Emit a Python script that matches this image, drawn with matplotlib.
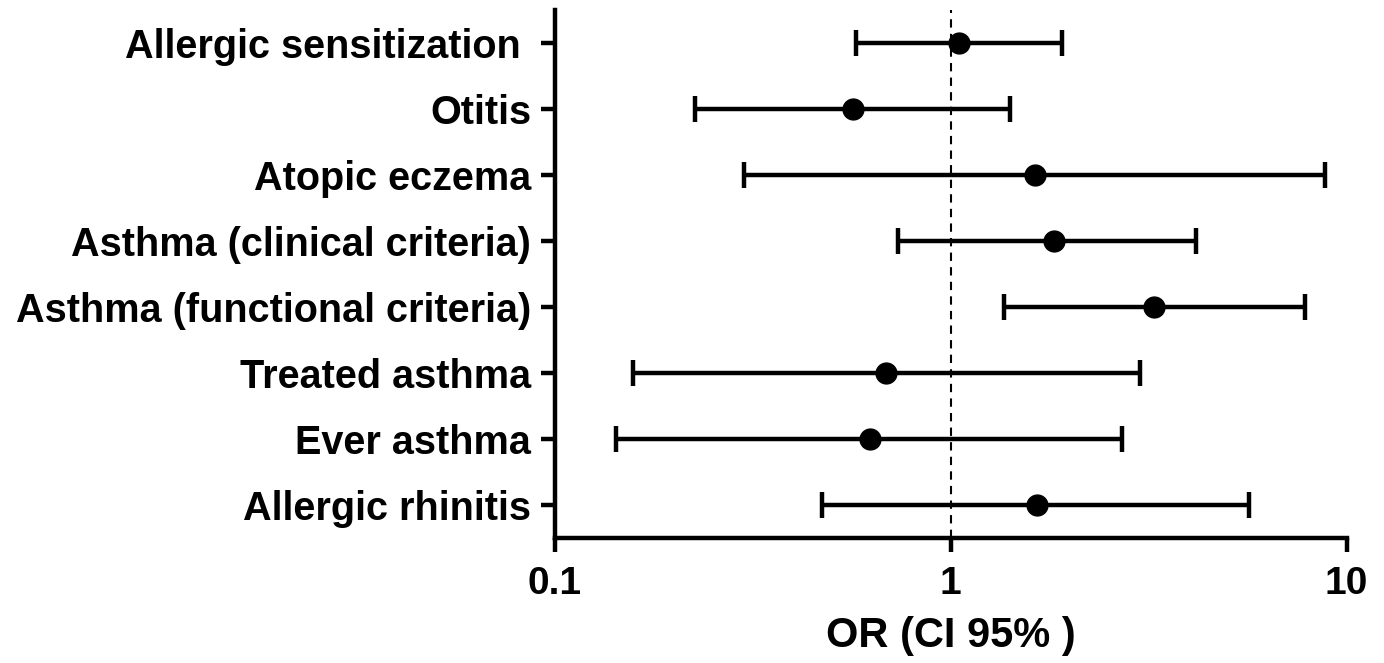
import matplotlib
matplotlib.use("Agg")
import matplotlib.pyplot as plt
import numpy as np

labels = ["Allergic sensitization ", "Otitis", "Atopic eczema", "Asthma (clinical criteria)",
          "Asthma (functional criteria)", "Treated asthma", "Ever asthma", "Allergic rhinitis"]
or_vals = [1.05, 0.567, 1.63, 1.82, 3.27, 0.686, 0.625, 1.65]
ci_low = [0.577, 0.226, 0.301, 0.735, 1.36, 0.157, 0.143, 0.473]
ci_high = [1.91, 1.41, 8.8, 4.17, 7.84, 3.01, 2.71, 5.66]
xticks = [0.1, 1, 10]
xticklabels = ["0.1", "1", "10"]

plt.rcParams['font.family'] = ['Liberation Sans', 'DejaVu Sans']
plt.rcParams['font.weight'] = 'bold'

fig = plt.figure(figsize=(13.84, 6.63), dpi=100)
ax = fig.add_axes([0.401, 0.1885, 0.572, 0.7965])

n = len(labels)
ypos = np.arange(n, 0, -1)
or_arr = np.array(or_vals)
err = [or_arr - np.array(ci_low), np.array(ci_high) - or_arr]
ax.errorbar(or_arr, ypos, xerr=err, fmt='o', color='black', ms=15, elinewidth=3.2,
            capsize=9.5, capthick=3.2, zorder=3)
ax.axvline(1, color='black', lw=1.5, ls=(0, (4, 3)), zorder=1)

ax.set_xscale('log')
ax.set_xlim(0.1, 10)
ax.set_ylim(0.5, 8.5)
ax.set_xticks(xticks)
ax.set_xticklabels(xticklabels)
ax.xaxis.set_minor_locator(matplotlib.ticker.NullLocator())
ax.set_yticks(ypos)
ax.set_yticklabels(labels)
for s in ['top', 'right']:
    ax.spines[s].set_visible(False)
for s in ['left', 'bottom']:
    ax.spines[s].set_linewidth(3.2)
ax.tick_params(axis='both', width=3.2, length=10)
ax.tick_params(axis='y', labelsize=28.5, pad=7)
ax.tick_params(axis='x', labelsize=28, pad=10)
for t in ax.get_xticklabels() + ax.get_yticklabels():
    t.set_fontweight('bold')
ax.set_xlabel("OR (CI 95% )", fontsize=30, fontweight='bold', labelpad=10)

fig.savefig("out.png", dpi=100)
